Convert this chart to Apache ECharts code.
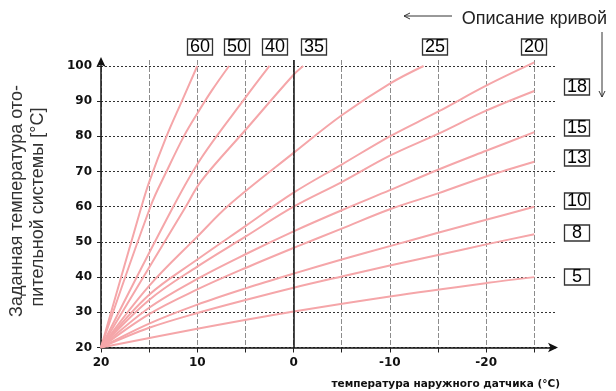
<!DOCTYPE html>
<html>
<head>
<meta charset="utf-8">
<script src="https://cdn.jsdelivr.net/npm/echarts@6/dist/echarts.min.js"></script>
<style>html,body{margin:0;padding:0;background:#fff;}#c{width:616px;height:391px;}</style>
</head>
<body>
<div id="c"></div>
<script>
// ---- data (outdoor temperature, flow temperature) ----
const xTicks = [20, 15, 10, 5, 0, -5, -10, -15, -20, -25];
const xLabels = [20, 10, 0, -10, -20];
const yTicks = [20, 30, 40, 50, 60, 70, 80, 90, 100];
const curveNames = ['60', '50', '40', '35', '25', '20', '18', '15', '13', '10', '8', '5'];

const curve60 = [[20, 20], [15.8, 60], [15, 67], [13.2, 80], [11.6, 90], [10, 100]];
const curve50 = [[20, 20], [14.8, 60.5], [13.2, 70], [11.4, 80], [10, 86.5], [8.5, 93], [6.7, 100]];
const curve40 = [[20, 20], [12.5, 60], [9.6, 73.8], [5, 91], [2.5, 100]];
const curve35 = [[20, 20], [11.2, 60], [9.6, 67.3], [5, 81.8], [0, 97.5], [-1, 100]];
const curve25 = [[20, 20], [15, 37.5], [10, 51.5], [6.7, 60.5], [0, 75.3], [-5, 86], [-10, 95], [-13.5, 100]];
const curve20 = [[20, 20], [15, 35], [10, 45], [5, 54.5], [0, 64], [-5, 72], [-10, 80], [-15, 87], [-20, 94.4], [-25, 101]];
const curve18 = [[20, 20], [15, 33.5], [10, 43], [5, 51.5], [0, 60], [-5, 67], [-10, 74.5], [-15, 80.7], [-20, 87.3], [-25, 92.9]];
const curve15 = [[20, 20], [15, 31.3], [10, 39.5], [5, 46.5], [0, 53], [-5, 59], [-10, 64.7], [-15, 70.5], [-20, 75.9], [-25, 81.2]];
const curve13 = [[20, 20], [15, 29.5], [10, 36.5], [5, 42.6], [0, 48.3], [-5, 53.8], [-10, 59.3], [-15, 63.8], [-20, 68.6], [-25, 72.8]];
const curve10 = [[20, 20], [15, 26.8], [10, 32.2], [5, 36.8], [0, 41], [-5, 45], [-10, 48.8], [-15, 52.6], [-20, 56.3], [-25, 60]];
const curve8 = [[20, 20], [15, 25.6], [10, 29.8], [5, 33.5], [0, 37], [-5, 40.2], [-10, 43.3], [-15, 46.3], [-20, 49.3], [-25, 52.2]];
const curve5 = [[20, 20], [10, 25.3], [0, 30.2], [-10, 34.5], [-20, 38.3], [-25, 40]];

const curves = [curve60, curve50, curve40, curve35, curve25, curve20, curve18, curve15, curve13, curve10, curve8, curve5];

// ---- chart ----
const chart = echarts.init(document.getElementById('c'), null, { renderer: 'canvas' });

const LINE = '#f5a6a9';
const series = curves.map((d, i) => ({
  name: curveNames[i],
  type: 'line',
  data: d,
  smooth: 0.35,
  showSymbol: false,
  silent: true,
  z: 3,
  lineStyle: { color: LINE, width: 2 },
  markLine: i === 0 ? {
    silent: true, symbol: 'none', label: { show: false },
    lineStyle: { color: '#111', type: 'solid', width: 1.5 },
    data: [{ xAxis: 0 }]
  } : undefined
}));

// boxed curve labels (decoration)
function boxLabel(txt, cx, cy) {
  return {
    type: 'group', x: cx, y: cy, z: 10,
    children: [
      { type: 'rect', shape: { x: -12.5, y: -8, width: 25, height: 16 }, style: { fill: '#fff', stroke: '#333', lineWidth: 1.3 } },
      { type: 'text', x: 0, y: 0.5, style: { text: txt, fill: '#000', font: '18px "Liberation Sans"', align: 'center', verticalAlign: 'middle' } }
    ]
  };
}
const topLabelPos = [[200, 47], [237, 47], [275, 47], [314, 47], [435, 47], [534, 47]];
const rightLabelPos = [[577, 87], [577, 128], [577, 158], [577, 201], [577, 233], [577, 277]];
const graphics = [];
curveNames.forEach((n, i) => {
  const p = i < 6 ? topLabelPos[i] : rightLabelPos[i - 6];
  graphics.push(boxLabel(n, p[0], p[1]));
});

graphics.push(
  { type: 'text', x: 607, y: 19, style: { text: 'Описание кривой', fill: '#222', font: '18px "Liberation Sans"', align: 'right', verticalAlign: 'middle' } },
  { type: 'line', shape: { x1: 404, y1: 16, x2: 452, y2: 16 }, style: { stroke: '#333', lineWidth: 1 } },
  { type: 'polyline', shape: { points: [[410, 13], [404, 16], [410, 19]] }, style: { stroke: '#333', lineWidth: 1, fill: null } },
  { type: 'line', shape: { x1: 602, y1: 32, x2: 602, y2: 97 }, style: { stroke: '#333', lineWidth: 1 } },
  { type: 'polyline', shape: { points: [[599, 91], [602, 97], [605, 91]] }, style: { stroke: '#333', lineWidth: 1, fill: null } },
  { type: 'text', x: 560, y: 384, style: { text: 'температура наружного датчика (°C)', fill: '#111', font: 'bold 10.5px "DejaVu Sans"', align: 'right', verticalAlign: 'middle' } },
  { type: 'text', x: 17, y: 201, rotation: Math.PI / 2, style: { text: 'Заданная температура ото-', fill: '#333', font: '18px "Liberation Sans"', align: 'center', verticalAlign: 'middle' } },
  { type: 'text', x: 38, y: 207, rotation: Math.PI / 2, style: { text: 'пительной системы [°C]', fill: '#333', font: '18px "Liberation Sans"', align: 'center', verticalAlign: 'middle' } }
);

const option = {
  animation: false,
  backgroundColor: '#fff',
  grid: { left: 101, right: 61, top: 60, bottom: 43.5, containLabel: false },
  xAxis: {
    type: 'value', inverse: true, min: -27.15, max: 20,
    axisLine: { show: true, onZero: false, lineStyle: { color: '#111', width: 1.5 }, symbol: ['none', 'arrow'], symbolSize: [7, 10], symbolOffset: [0, 3] },
    axisTick: { show: true, customValues: xTicks, length: 5, lineStyle: { color: '#222' } },
    axisLabel: { customValues: xLabels, margin: 9, color: '#111', fontSize: 12, fontWeight: 'bold', fontFamily: 'DejaVu Sans' },
    splitLine: { show: true, lineStyle: { color: '#8c8c8c', type: [5, 2], width: 1 } }
  },
  yAxis: {
    type: 'value', min: 20, max: 101.7,
    axisLine: { show: true, onZero: false, lineStyle: { color: '#111', width: 1.5 }, symbol: ['none', 'arrow'], symbolSize: [7, 10], symbolOffset: [0, 3] },
    axisTick: { show: true, customValues: yTicks, length: 4, lineStyle: { color: '#222' } },
    axisLabel: { customValues: yTicks, margin: 9, color: '#111', fontSize: 12, fontWeight: 'bold', fontFamily: 'DejaVu Sans' },
    splitLine: { show: true, lineStyle: { color: '#333', type: [2, 2], width: 1 } }
  },
  series: series,
  graphic: graphics
};
chart.setOption(option);
</script>
</body>
</html>
